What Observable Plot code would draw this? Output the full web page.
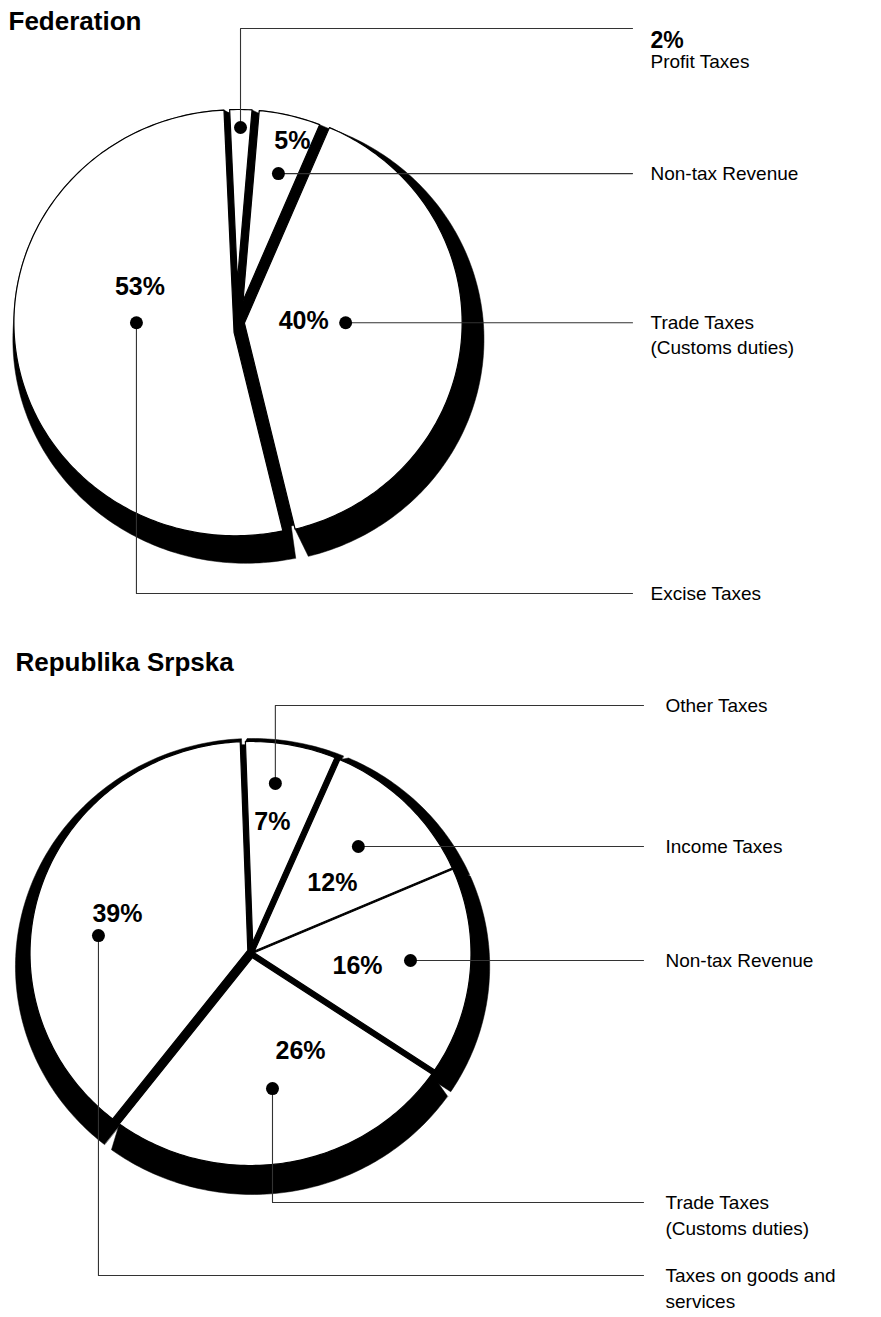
<!DOCTYPE html>
<html><head><meta charset="utf-8">
<script src="https://cdn.jsdelivr.net/npm/d3@7"></script>
<script src="https://cdn.jsdelivr.net/npm/@observablehq/plot@0.6"></script>
<style>body{margin:0;background:#fff} #chart svg{display:block}</style>
</head><body><div id="chart"></div>
<script>
// ---------------- data ----------------
const titles = ["Federation", "Republika Srpska"];
const fedCategories = ["Profit Taxes", "Non-tax Revenue", "Trade Taxes\n(Customs duties)", "Excise Taxes"];
const fedValues = [2, 5, 40, 53];
const rsCategories = ["Other Taxes", "Income Taxes", "Non-tax Revenue", "Trade Taxes\n(Customs duties)", "Taxes on goods and\nservices"];
const rsValues = [7, 12, 16, 26, 39];

// ---------------- layout ----------------
const W = 881, H = 1317;
const FONT = "'Liberation Sans', Arial, Helvetica, sans-serif";
const layouts = [
  { title: {x: 8, y: 21}, cx: 237, cy: 322, R: 213, sx: 1.04, start: -2.5,
    pads: [7, 7, 7, 3.5], explode: [0, 0, 3, 2],
    shadow: {dr: 11, ex: 10, ey: 16.5},
    lineEnd: 632, textX: 650, lineH: 25,
    ann: [ {r: 195, da: -0.25, route: "up", elbow: 28, pct: "outside"},
           {r: 154, da: 1.1, route: "h", pct: [14, -33]},
           {r: 101, da: -4.7, route: "h", pct: [-42, -2]},
           {r: 95.2, da: 7.9, route: "down", elbow: 593, pct: [3.5, -36]} ] },
  { title: {x: 15, y: 662}, cx: 250, cy: 953, R: 212, sx: 1.04, start: -2,
    pads: [5, 1.5, 5, 8, 5], explode: [0, 0, 0, 0, 0],
    shadow: {dr: 16, ex: 2, ey: 13},
    lineEnd: 643, textX: 665, lineH: 26,
    ann: [ {r: 171.7, da: -2.6, route: "up", elbow: 705, pct: [-3, 39]},
           {r: 149, da: -0.7, route: "h", pct: [-26, 37]},
           {r: 154, da: -2.6, route: "h", pct: [-53, 6]},
           {r: 136.7, da: 0.3, route: "down", elbow: 1202, pct: [28, -38]},
           {r: 147.3, da: -10.8, route: "down", elbow: 1275, pct: [19, -22]} ] }
];
const pies = [
  {values: fedValues, categories: fedCategories, L: layouts[0], title: titles[0]},
  {values: rsValues, categories: rsCategories, L: layouts[1], title: titles[1]}
];

// ---------------- geometry ----------------
const rad = d => d * Math.PI / 180;
const U = d => [Math.sin(rad(d)), -Math.cos(rad(d))];   // radial direction
const T = d => [Math.cos(rad(d)), Math.sin(rad(d))];    // clockwise tangent

const shadowPts = [], facePts = [], dots = [], leaders = [], pctTexts = [], labelTexts = [], titleTexts = [];

pies.forEach((pie, p) => {
  const {values, categories, L} = pie;
  const total = d3.sum(values);
  const n = values.length;
  const toScreen = q => [L.cx + q[0] * L.sx, L.cy + q[1]];
  let acc = L.start;
  const sl = values.map(v => { const a0 = acc; acc += v / total * 360; return {v, a0, a1: acc}; });
  titleTexts.push({x: L.title.x, y: L.title.y, text: pie.title});
  const base = d3.range(0, 361, 2).map(d => { const u = U(d); return [u[0] * (L.R - 3), u[1] * (L.R - 3)]; });
  base.forEach((q, j) => { const s = toScreen(q); shadowPts.push({key: `b${p}`, j, x: s[0], y: s[1]}); });
  sl.forEach((s, i) => {
    const gA = L.pads[(i - 1 + n) % n] / 2, gB = L.pads[i] / 2;
    const ua = U(s.a0), ub = U(s.a1), na = T(s.a0), nb = T(s.a1);
    const px = gA * na[0] + gB * nb[0], py = gA * na[1] + gB * nb[1];
    const det = -ua[0] * ub[1] + ub[0] * ua[1];
    const sA = (px * ub[1] - ub[0] * py) / det;
    const apex = [gA * na[0] + sA * ua[0], gA * na[1] + sA * ua[1]];
    const b0 = s.a0 + Math.asin(gA / L.R) * 180 / Math.PI;
    const b1 = s.a1 - Math.asin(gB / L.R) * 180 / Math.PI;
    const steps = Math.max(2, Math.ceil(b1 - b0));
    const pts = [apex];
    for (let k = 0; k <= steps; k++) { const u = U(b0 + (b1 - b0) * k / steps); pts.push([L.R * u[0], L.R * u[1]]); }
    const mid = (s.a0 + s.a1) / 2, um = U(mid), e = L.explode[i];
    const face = pts.map(q => [q[0] + e * um[0], q[1] + e * um[1]]);
    const k = (L.R + L.shadow.dr) / L.R;
    const sh = pts.map(q => [q[0] * k + e * um[0] + L.shadow.ex, q[1] * k + e * um[1] + L.shadow.ey]);
    const hull = d3.polygonHull(face.concat(sh));
    hull.forEach((q, j) => { const v = toScreen(q); shadowPts.push({key: `s${p}-${i}`, j, x: v[0], y: v[1]}); });
    face.forEach((q, j) => { const v = toScreen(q); facePts.push({key: `f${p}-${i}`, j, x: v[0], y: v[1]}); });

    const a = L.ann[i];
    const ud = U(mid + a.da);
    const dot = toScreen([ud[0] * a.r + e * um[0], ud[1] * a.r + e * um[1]]);
    dots.push({x: dot[0], y: dot[1]});
    let path, lineY;
    if (a.route === "h") { lineY = dot[1]; path = [dot, [L.lineEnd, lineY]]; }
    else { lineY = a.elbow; path = [dot, [dot[0], lineY], [L.lineEnd, lineY]]; }
    path.forEach((q, j) => leaders.push({key: `l${p}-${i}`, j, x: q[0], y: q[1]}));
    const lines = categories[i].split("\n");
    let ly = lineY;
    if (a.pct === "outside") {
      pctTexts.push({x: L.textX, y: lineY + 12, text: `${s.v}%`, anchor: "start"});
      ly = lineY + 33;
    } else {
      pctTexts.push({x: dot[0] + a.pct[0], y: dot[1] + a.pct[1], text: `${s.v}%`, anchor: "middle"});
    }
    lines.forEach((t, j) => labelTexts.push({x: L.textX, y: ly + j * L.lineH, text: t}));
  });
});

const chart = Plot.plot({
  width: W, height: H, margin: 0,
  style: {fontFamily: FONT, background: "white", color: "black"},
  x: {domain: [0, W], range: [0, W], axis: null},
  y: {domain: [0, H], range: [0, H], axis: null},
  marks: [
    Plot.line(shadowPts, {x: "x", y: "y", z: "key", fill: "black", stroke: "black", strokeWidth: 0.5, curve: "linear-closed"}),
    Plot.line(facePts, {x: "x", y: "y", z: "key", fill: "white", stroke: "black", strokeWidth: 1.2, curve: "linear-closed"}),
    Plot.line(leaders, {x: "x", y: "y", z: "key", stroke: "#333", strokeWidth: 1.1}),
    Plot.dot(dots, {x: "x", y: "y", r: 6.5, fill: "black", stroke: null}),
    Plot.text(pctTexts.filter(d => d.anchor === "middle"), {x: "x", y: "y", text: "text", fontSize: 25, fontWeight: "bold", textAnchor: "middle", lineAnchor: "middle"}),
    Plot.text(pctTexts.filter(d => d.anchor === "start"), {x: "x", y: "y", text: "text", fontSize: 23, fontWeight: "bold", textAnchor: "start", lineAnchor: "middle"}),
    Plot.text(labelTexts, {x: "x", y: "y", text: "text", fontSize: 19, textAnchor: "start", lineAnchor: "middle"}),
    Plot.text(titleTexts, {x: "x", y: "y", text: "text", fontSize: 26, fontWeight: "bold", textAnchor: "start", lineAnchor: "middle"})
  ]
});
document.getElementById("chart").appendChild(chart);
</script>
</body></html>
